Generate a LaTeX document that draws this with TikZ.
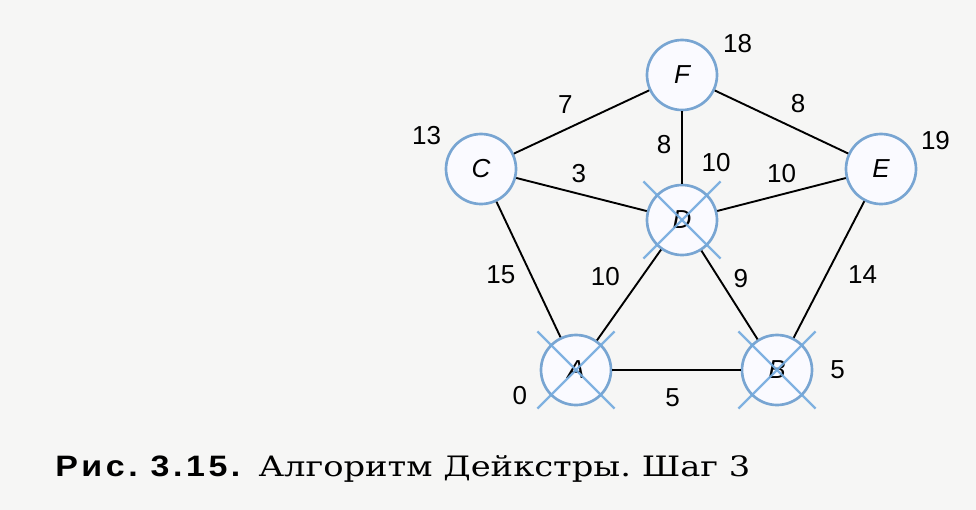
\documentclass[tikz,border=0pt]{standalone}
\usepackage{fontspec}
\setmainfont{Liberation Serif}
\setsansfont{Liberation Sans}
\newfontfamily\capserif[FakeStretch=1.2]{DejaVu Serif}
\newfontfamily\capsans[FakeStretch=1.15,LetterSpace=12]{Liberation Sans}
\definecolor{ring}{RGB}{120,165,210}
\definecolor{crossblue}{RGB}{115,170,222}
\definecolor{paper}{RGB}{246,246,245}
\tikzset{ v/.style = { rectangle % value of a vertex
        , inner sep = 0pt
        , font = \sffamily\fontsize{18.5}{22}\selectfont
        }
        , w/.style = { rectangle % weight of an edge
        , inner sep = 0pt
        , font = \sffamily\fontsize{18.5}{22}\selectfont
        }
        }

\begin{document}
\begin{tikzpicture}[x=0.25mm, y=-0.25mm,
        node_style/.style={circle,draw=ring,line width=1.9pt,fill=blue!2!white,minimum size=17.5mm,inner sep=0pt,font=\sffamily\itshape\fontsize{18.5}{22}\selectfont},
        edge_style/.style={draw=black, line width=1.35pt},
        cross_style/.style={draw=crossblue, line width=1.7pt, opacity=0.9, shorten <=-13pt, shorten >=-13pt}]
        \fill [paper] (0,0) rectangle (976,510);
        \useasboundingbox (0,0) rectangle (976,510);

        \node [node_style,label={[v,label distance=10.5pt]198:0}](nA) at (576,370) {A};
        \node [node_style,label={[v,label distance=12pt]0:5}](nB) at (777,370) {B};
        \node [node_style,label={[v,label distance=7pt]149:13}](nC) at (481,169) {C};
        \node [node_style,label={[v,label distance=11pt]68:10}](nD) at (682,220) {D};
        \node [node_style,label={[v,label distance=5.6pt]26:19}](nE) at (881,169) {E};
        \node [node_style,label={[v,label distance=7pt]28:18}](nF) at (682,75) {F};

        \draw [edge_style] (nC) -- node [w,above left=5.7pt] {7} (nF);
        \draw [edge_style] (nF) -- node [w,above right=6pt] {8} (nE);
        \draw [edge_style] (nF) -- node [w,pos=0.455,left=7pt] {8} (nD);
        \draw [edge_style] (nC) -- node [w,pos=0.48,above=7pt] {3} (nD);
        \draw [edge_style] (nD) -- node [w,above=7.5pt] {10} (nE);
        \draw [edge_style] (nC) -- node [w,pos=0.54,left=10.5pt] {15} (nA);
        \draw [edge_style] (nA) -- node [w,above left=5.8pt] {10} (nD);
        \draw [edge_style] (nD) -- node [w,pos=0.48,above right=3pt] {9} (nB);
        \draw [edge_style] (nE) -- node [w,pos=0.54,right=15pt] {14} (nB);
        \draw [edge_style] (nA) -- node [w,pos=0.47,below=12.5pt] {5} (nB);

        % crossed out vertices
        \foreach \n in {nA,nB,nD}{
            \draw [cross_style] (\n.north west) -- (\n.south east);
            \draw [cross_style] (\n.north east) -- (\n.south west);
        }

        \node [anchor=base west,inner sep=0pt,font=\fontsize{20}{24}\selectfont] (cap) at (55,476)
            {{\capsans\fontsize{21}{24}\selectfont\bfseries Рис.\ 3.15.}\hspace{13pt}{\capserif Алгоритм Дейкстры.\ Шаг~3}};
\end{tikzpicture}
\end{document}
